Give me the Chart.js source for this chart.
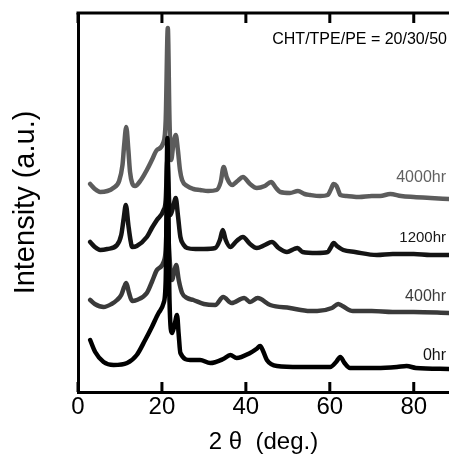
<!DOCTYPE html>
<html>
<head>
<meta charset="utf-8">
<script src="https://cdn.jsdelivr.net/npm/chart.js@4/dist/chart.umd.min.js"></script>
<style>
html,body{margin:0;padding:0;background:#fff;}
#wrap{width:449px;height:460px;}
</style>
</head>
<body>
<div id="wrap"><canvas id="c" width="449" height="460"></canvas></div>
<script>
// 2-theta positions (deg.) and offset intensities (a.u.)
const x0hr = [2.9,4.1,6.1,8.5,11.7,14,16,17.6,19.2,20.4,20.9,21.3,21.8,22.4,23,23.6,24,24.4,26.7,29.1,31.5,34.6,36.3,37.8,41,42.5,43.4,44.2,45,47.4,52.9,56.9,60.1,61.5,62.5,63.5,64.8,71.2,76,78.3,80.5,88.4];
const y0hr = [52,40,30,27,29,37,52,65,79,89,112,254,92,59,67,77,57,39,32,32,29,33,37,34,39,43,46,40,32,26,25,25,25,30,35,29,24,24,25,26,24,23];

const x400hr = [2.9,4,6.1,8,9.3,10.3,11,11.5,12.1,12.9,14,16.4,17.6,18.8,20.4,20.9,21.3,21.7,22.4,23,23.4,24,24.8,26,27.5,30,32.7,34.6,36.6,39.6,41,42.8,45.8,50.5,55.3,57,60.5,62,63,65.5,70,75,80,88.4];
const y400hr = [92,88,85,88,92,97,105,109,100,91,92,99,110,122,130,142,182,142,112,122,127,112,99,94,92,88,87,95,89,94,90,94,87,84,81,81,84,88,86,81,81,80,80,79];

const x1200hr = [2.9,4,5.3,7,9.3,10.3,10.9,11.4,12,12.5,12.9,14,16.4,17.6,18.8,20.4,20.9,21.3,21.7,22,22.6,23.3,23.8,24.4,25.2,26,28,30,32.7,33.8,34.5,35.2,36.3,37.8,39.3,41,42.6,44.5,46.2,47.8,49.8,51.5,52.3,53.5,56.9,59.5,60.3,60.9,61.7,63.2,66,71.2,75,80,84,88.4];
const y1200hr = [150,145,142,143,147,157,174,187,167,152,145,146,155,164,172,182,192,232,192,177,184,194,177,155,147,144,143,143,144,152,162,152,145,151,155,148,144,147,150,144,140,143,144,140,139,140,145,149,146,142,140,137,138,138,137,137];

const x4000hr = [2.9,4,5.3,7,8.4,9.8,10.6,11,11.5,12,12.4,12.9,13.6,15,16.4,17.6,18.8,20.3,20.9,21.4,21.8,22.2,22.7,23.3,23.8,24.3,24.8,26,27.5,29.1,31,33,34,34.7,35.5,36.7,38,39.3,41,42.6,44.5,46,47.2,48.2,50.5,52.4,54,55.3,57.7,59.5,60.3,60.9,61.6,62,62.5,64,67,70,72,74.4,77,80,84,88.4];
const y4000hr = [208,203,200,201,204,211,227,247,265,242,220,209,206,212,222,232,242,249,272,364,272,232,247,257,242,222,212,206,203,202,201,202,210,225,214,207,211,215,208,204,206,210,204,200,199,201,198,197,196,197,203,208,206,202,197,196,195,196,196,198,196,195,194,193];

const seriesNames = ['0hr','400hr','1200hr','4000hr'];
const seriesColors = ['#000000','#3a3a3a','#141414','#5c5c5c'];
const labelColors = ['#111111','#3c3c3c','#161616','#606060'];
const labelY = [36, 95, 154, 214];   // label centre heights in a.u.
const xTicks = [0,20,40,60,80];
const noteText = 'CHT/TPE/PE = 20/30/50';

function pts(xs, ys){ return xs.map((x,i)=>({x:x, y:ys[i]})); }
const allX = [x0hr,x400hr,x1200hr,x4000hr];
const allY = [y0hr,y400hr,y1200hr,y4000hr];

const FONT = "'Liberation Sans', Arial, Helvetica, sans-serif";

const framePlugin = {
  id: 'frame',
  afterDraw(chart){
    const ctx = chart.ctx, a = chart.chartArea, xs = chart.scales.x, ys = chart.scales.y;
    ctx.save();
    ctx.strokeStyle = '#000';
    ctx.lineWidth = 3;
    ctx.beginPath();
    ctx.moveTo(a.left - 1.5, a.top);
    ctx.lineTo(a.right + 2, a.top);
    ctx.stroke();
    xTicks.forEach(v=>{
      const px = xs.getPixelForValue(v);
      ctx.beginPath();
      ctx.moveTo(px, a.top); ctx.lineTo(px, a.top + 10);
      ctx.moveTo(px, a.bottom); ctx.lineTo(px, a.bottom - 10);
      ctx.stroke();
    });
    // series labels
    ctx.textAlign = 'right';
    ctx.textBaseline = 'middle';
    seriesNames.forEach((n,i)=>{
      ctx.fillStyle = labelColors[i];
      ctx.font = (n === '1200hr' ? '15px ' : '16px ') + FONT;
      ctx.fillText(n, a.right - 3, ys.getPixelForValue(labelY[i]));
    });
    ctx.fillStyle = '#000';
    ctx.font = '16px ' + FONT;
    ctx.fillText(noteText, a.right - 2, a.top + 27);
    ctx.restore();
  }
};

new Chart(document.getElementById('c'), {
  type: 'line',
  data: {
    datasets: seriesNames.map((n,i)=>({
      label: n,
      data: pts(allX[i], allY[i]),
      borderColor: seriesColors[i],
      borderWidth: 4.5,
      pointRadius: 0,
      cubicInterpolationMode: 'monotone',
      fill: false,
      borderJoinStyle: 'round',
      borderCapStyle: 'round'
    }))
  },
  options: {
    responsive: false,
    animation: false,
    events: [],
    layout: { padding: { top: 13, right: 0, left: 0, bottom: 0 } },
    plugins: { legend: { display: false }, tooltip: { enabled: false } },
    scales: {
      x: {
        type: 'linear', min: 0, max: 88.4,
        grid: { display: false, drawTicks: false },
        border: { display: true, color: '#000', width: 3 },
        ticks: { stepSize: 20, includeBounds: false, color: '#000', padding: 1,
                 font: { family: FONT, size: 24 }, maxRotation: 0 },
        title: { display: true, text: '2 θ  (deg.)', color: '#000',
                 font: { family: FONT, size: 24 }, padding: { top: 3, bottom: 3 } },
        afterFit(s){ s.height = 68; }
      },
      y: {
        type: 'linear', min: 0, max: 379,
        grid: { display: false, drawTicks: false },
        border: { display: true, color: '#000', width: 3 },
        ticks: { display: false },
        title: { display: true, text: 'Intensity (a.u.)', color: '#000',
                 font: { family: FONT, size: 29 }, padding: { top: 9, bottom: 9 } },
        afterFit(s){ s.width = 78; }
      }
    }
  },
  plugins: [framePlugin]
});
</script>
</body>
</html>
